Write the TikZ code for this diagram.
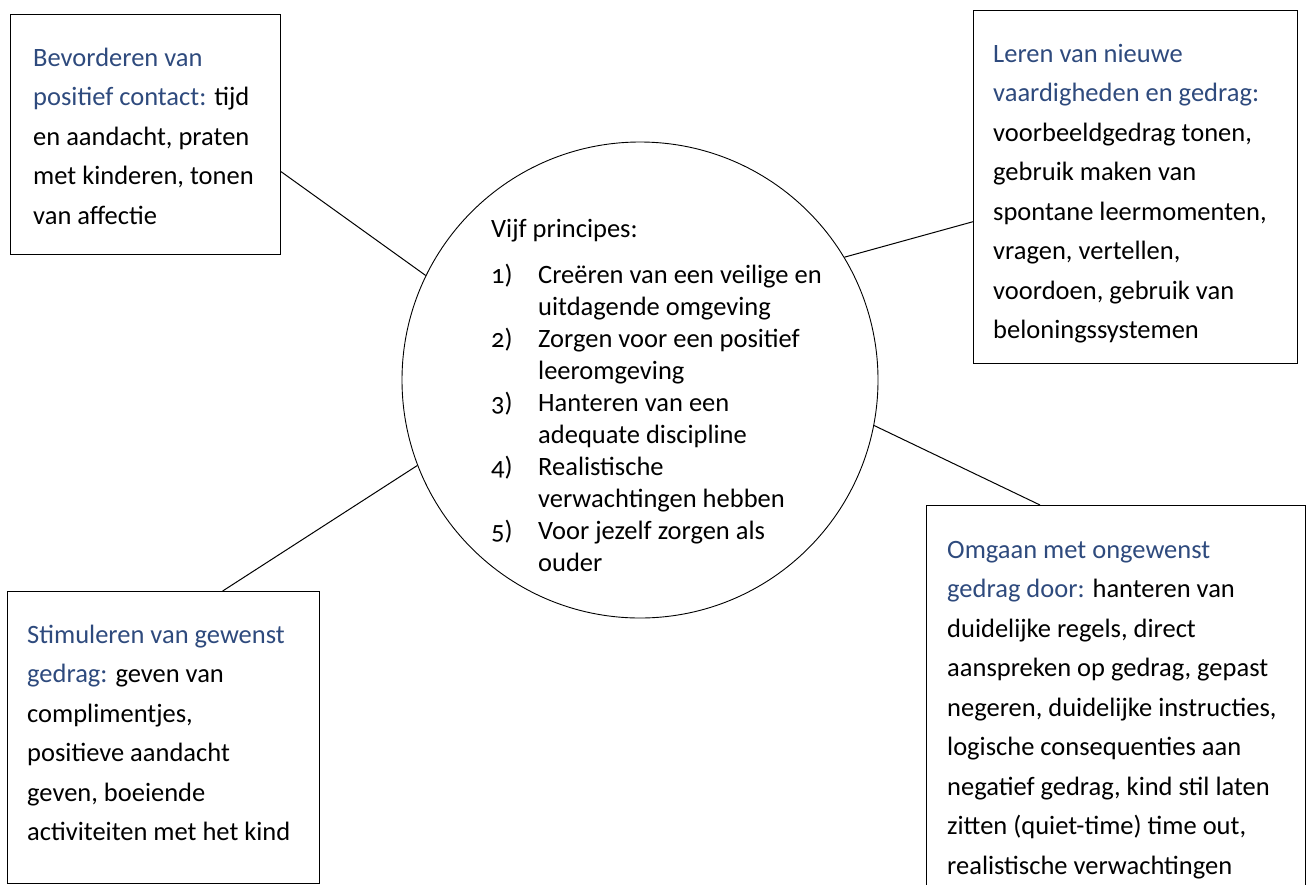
\documentclass[tikz,border=0pt]{standalone}
\usepackage{fontspec}
\setmainfont{Carlito}[Numbers=OldStyle]
\usetikzlibrary{calc}
\definecolor{headblue}{RGB}{46,74,125}
\newcommand{\hd}[1]{{\color{headblue}#1}}
\tikzset{
  panel/.style={draw=black, line width=1pt, rectangle, anchor=north west, inner sep=0pt},
  ring/.style={draw=black, line width=0.9pt, circle, inner sep=0pt, minimum size=476pt},
  txt/.style={anchor=base west, inner sep=0pt, font=\fontsize{26.5}{39.5}\selectfont},
  listtxt/.style={anchor=base west, inner sep=0pt, font=\fontsize{26.5}{32}\selectfont},
  link/.style={draw=black, line width=1pt},
}
\begin{document}
\begin{tikzpicture}[x=1pt,y=-1pt]
\useasboundingbox (0,0) rectangle (1306,884);
\clip (0,0) rectangle (1306,884);

% outer boxes and the central circle
\node[panel, minimum width=270pt, minimum height=240pt] (tl) at (10,14) {};
\node[panel, minimum width=324pt, minimum height=353pt] (tr) at (973,10) {};
\node[panel, minimum width=312pt, minimum height=292pt] (bl) at (7,591) {};
\node[panel, minimum width=379pt, minimum height=420pt] (br) at (926,505) {};
\node[ring] (c) at (640,380) {};

% connectors
\draw[link] ($(tl.north east)!0.654!(tl.south east)$) -- (c.154);
\draw[link] (c.31) -- ($(tr.north west)!0.598!(tr.south west)$);
\draw[link] ($(bl.north west)!0.689!(bl.north east)$) -- (c.201);
\draw[link] ($(br.north west)!0.30!(br.north east)$) -- (c.349);

% box texts
\node[txt] (tltext) at (33,66) {\begin{tabular}[t]{@{}l@{}}
\hd{Bevorderen van}\\
\hd{positief contact:} tijd\\
en aandacht, praten\\
met kinderen, tonen\\
van affectie
\end{tabular}};

\node[txt] (trtext) at (993,62) {\begin{tabular}[t]{@{}l@{}}
\hd{Leren van nieuwe}\\
\hd{vaardigheden en gedrag:}\\
voorbeeldgedrag tonen,\\
gebruik maken van\\
spontane leermomenten,\\
vragen, vertellen,\\
voordoen, gebruik van\\
beloningssystemen
\end{tabular}};

\node[txt] (bltext) at (27,643) {\begin{tabular}[t]{@{}l@{}}
\hd{Stimuleren van gewenst}\\
\hd{gedrag:} geven van\\
complimentjes,\\
positieve aandacht\\
geven, boeiende\\
activiteiten met het kind
\end{tabular}};

\node[txt] (brtext) at (947,558) {\begin{tabular}[t]{@{}l@{}}
\hd{Omgaan met ongewenst}\\
\hd{gedrag door:} hanteren van\\
duidelijke regels, direct\\
aanspreken op gedrag, gepast\\
negeren, duidelijke instructies,\\
logische consequenties aan\\
negatief gedrag, kind stil laten\\
zitten (quiet-time) time out,\\
realistische verwachtingen
\end{tabular}};

% circle text
\node[listtxt] (ctext) at (491,237) {\begin{tabular}[t]{@{}p{47pt}@{}l@{}}
\multicolumn{2}{@{}l@{}}{Vijf principes:}\\[14pt]
1) & Creëren van een veilige en\\
   & uitdagende omgeving\\
2) & Zorgen voor een positief\\
   & leeromgeving\\
3) & Hanteren van een\\
   & adequate discipline\\
4) & Realistische\\
   & verwachtingen hebben\\
5) & Voor jezelf zorgen als\\
   & ouder
\end{tabular}};
\end{tikzpicture}
\end{document}
